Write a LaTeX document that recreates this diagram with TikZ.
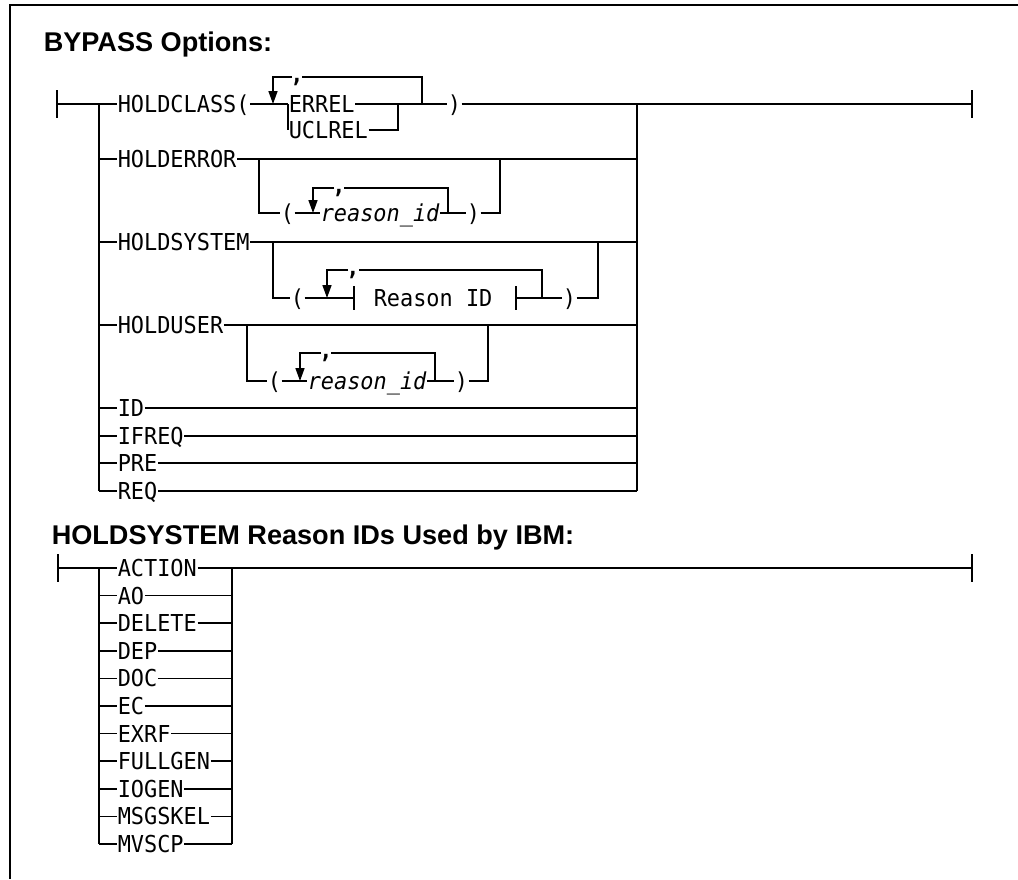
\documentclass[tikz,border=0pt]{standalone}
\usepackage{fontspec}
\setmainfont{Liberation Sans}
\newfontfamily\synfont[FakeStretch=0.94]{DejaVu Sans Mono}
\usetikzlibrary{arrows.meta}

\begin{document}
\begin{tikzpicture}[
    x=1pt, y=-1pt, line width=1.5pt,
    kw/.style = {font=\synfont\fontsize{23.3}{28}\selectfont, inner sep=0pt, anchor=west, text height=17pt, text depth=0pt},
    var/.style = {kw, font=\synfont\fontsize{23.3}{28}\selectfont\itshape},
    sepr/.style = {font=\synfont\bfseries\fontsize{23.3}{28}\selectfont, inner sep=0pt, anchor=north},
    heading/.style = {font=\bfseries\fontsize{27.1}{32}\selectfont, inner sep=0pt, anchor=west},
    rep/.style = {-{Triangle[length=13pt,width=9pt]}}
]
    \useasboundingbox (0,0) rectangle (1018,879);
    % --- cadre ---
    \coordinate (f0) at (10,5);
    \draw[line width=1.7pt] (1018,5) -- (f0) -- (10,879);

    % --- BYPASS Options ---
    \node[heading] (t1) at (43,44) {BYPASS Options:};
    \coordinate (s1) at (57,104);
    \coordinate (e1) at (972,104);
    \coordinate (bl) at (99,104);
    \coordinate (bl2) at (99,491);
    \coordinate (br) at (637,104);
    \coordinate (br2) at (637,491);
    \draw ([yshift=14pt]s1) -- ([yshift=-14pt]s1);
    \draw ([yshift=14pt]e1) -- ([yshift=-14pt]e1);
    \draw (bl) -- (bl2);
    \draw (br) -- (br2);

    % HOLDCLASS
    \node[kw] (hc) at (117,104) {HOLDCLASS(};
    \node[kw] (errel) at (288,104) {ERREL};
    \node[kw] (uclrel) at (288,130) {UCLREL};
    \node[kw] (cp1) at (447,104) {)};
    \coordinate (j1) at (398,104);
    \coordinate (a1) at (273,104);
    \coordinate (r1) at (422,104);
    \coordinate (c1l) at (292,77);
    \coordinate (c1r) at (302,77);
    \node[sepr] (cm1) at (297,78) {,};
    \draw (s1) -- (hc) -- (errel) -- (cp1) -- (e1);
    \draw (errel.west) -- (uclrel.west);
    \draw (uclrel) -| (j1);
    \draw (r1) |- (c1r);
    \draw[rep] (c1l) -| (a1);

    % HOLDERROR
    \node[kw] (he) at (117,159) {HOLDERROR};
    \node[kw] (op2) at (280,213) {(};
    \node[var] (rid2) at (320,213) {reason\_id};
    \node[kw] (cp2) at (466,213) {)};
    \coordinate (k2l) at (259,159);
    \coordinate (k2r) at (500,159);
    \coordinate (a2) at (313,213);
    \coordinate (r2) at (448,213);
    \coordinate (c2l) at (334,188);
    \coordinate (c2r) at (344,188);
    \node[sepr] (cm2) at (339,189) {,};
    \draw (bl |- he) -- (he) -- (br |- he);
    \draw (k2l) |- (op2) -- (rid2) -- (cp2) -| (k2r);
    \draw (r2) |- (c2r);
    \draw[rep] (c2l) -| (a2);

    % HOLDSYSTEM
    \node[kw] (hs) at (117,242) {HOLDSYSTEM};
    \node[kw] (op3) at (290,298) {(};
    \node[kw] (rsn) at (373,298) {Reason ID};
    \node[kw] (cp3) at (562,298) {)};
    \coordinate (k3l) at (273,242);
    \coordinate (k3r) at (598,242);
    \coordinate (b3l) at (354,298);
    \coordinate (b3r) at (516,298);
    \coordinate (a3) at (327,298);
    \coordinate (r3) at (542,298);
    \coordinate (c3l) at (348,270);
    \coordinate (c3r) at (359,270);
    \node[sepr] (cm3) at (353,271) {,};
    \draw (bl |- hs) -- (hs) -- (br |- hs);
    \draw (k3l) |- (op3) -- (b3l);
    \draw (b3r) -- (cp3) -| (k3r);
    \draw ([yshift=12pt]b3l) -- ([yshift=-12pt]b3l);
    \draw ([yshift=12pt]b3r) -- ([yshift=-12pt]b3r);
    \draw (r3) |- (c3r);
    \draw[rep] (c3l) -| (a3);

    % HOLDUSER
    \node[kw] (hu) at (117,325) {HOLDUSER};
    \node[kw] (op4) at (267,381) {(};
    \node[var] (rid4) at (307,381) {reason\_id};
    \node[kw] (cp4) at (454,381) {)};
    \coordinate (k4l) at (247,325);
    \coordinate (k4r) at (488,325);
    \coordinate (a4) at (300,381);
    \coordinate (r4) at (435,381);
    \coordinate (c4l) at (321,353);
    \coordinate (c4r) at (331,353);
    \node[sepr] (cm4) at (326,354) {,};
    \draw (bl |- hu) -- (hu) -- (br |- hu);
    \draw (k4l) |- (op4) -- (rid4) -- (cp4) -| (k4r);
    \draw (r4) |- (c4r);
    \draw[rep] (c4l) -| (a4);

    % options simples
    \node[kw] (id) at (117,408) {ID};
    \node[kw] (ifreq) at (117,436) {IFREQ};
    \node[kw] (pre) at (117,463) {PRE};
    \node[kw] (req) at (117,491) {REQ};
    \draw (bl |- id) -- (id) -- (br |- id);
    \draw (bl |- ifreq) -- (ifreq) -- (br |- ifreq);
    \draw (bl |- pre) -- (pre) -- (br |- pre);
    \draw (bl2) -- (req) -- (br2);

    % --- HOLDSYSTEM Reason IDs ---
    \node[heading] (t2) at (51,537) {HOLDSYSTEM Reason IDs Used by IBM:};
    \coordinate (s2) at (58,568);
    \coordinate (e2) at (972,568);
    \coordinate (bl3) at (99,568);
    \coordinate (bl4) at (99,844);
    \coordinate (br3) at (232,568);
    \coordinate (br4) at (232,844);
    \draw ([yshift=14pt]s2) -- ([yshift=-14pt]s2);
    \draw ([yshift=14pt]e2) -- ([yshift=-14pt]e2);
    \draw (bl3) -- (bl4);
    \draw (br3) -- (br4);

    \node[kw] (action) at (117,568) {ACTION};
    \node[kw] (ao) at (117,595.6) {AO};
    \node[kw] (delete) at (117,623.2) {DELETE};
    \node[kw] (dep) at (117,650.8) {DEP};
    \node[kw] (doc) at (117,678.4) {DOC};
    \node[kw] (ec) at (117,706) {EC};
    \node[kw] (exrf) at (117,733.6) {EXRF};
    \node[kw] (fullgen) at (117,761.2) {FULLGEN};
    \node[kw] (iogen) at (117,788.8) {IOGEN};
    \node[kw] (msgskel) at (117,816.4) {MSGSKEL};
    \node[kw] (mvscp) at (117,844) {MVSCP};

    \draw (s2) -- (action) -- (e2);
    \draw (bl3 |- ao) -- (ao) -- (br3 |- ao);
    \draw (bl3 |- delete) -- (delete) -- (br3 |- delete);
    \draw (bl3 |- dep) -- (dep) -- (br3 |- dep);
    \draw (bl3 |- doc) -- (doc) -- (br3 |- doc);
    \draw (bl3 |- ec) -- (ec) -- (br3 |- ec);
    \draw (bl3 |- exrf) -- (exrf) -- (br3 |- exrf);
    \draw (bl3 |- fullgen) -- (fullgen) -- (br3 |- fullgen);
    \draw (bl3 |- iogen) -- (iogen) -- (br3 |- iogen);
    \draw (bl3 |- msgskel) -- (msgskel) -- (br3 |- msgskel);
    \draw (bl4) -- (mvscp) -- (br4);
\end{tikzpicture}
\end{document}
